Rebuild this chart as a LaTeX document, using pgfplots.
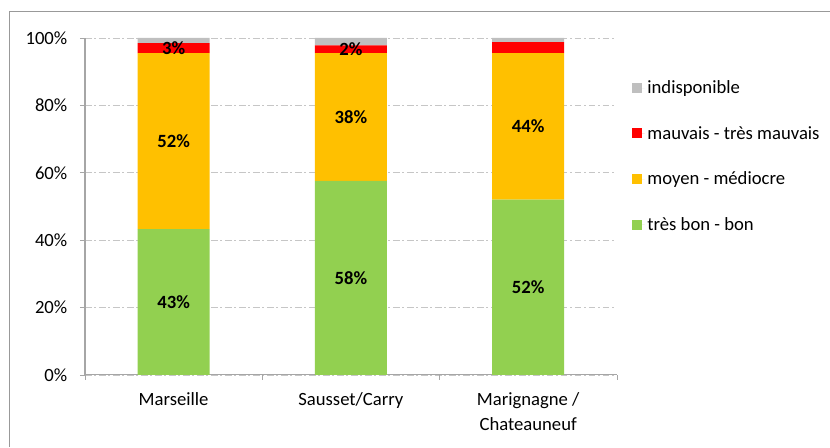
\documentclass[border=0pt]{standalone}
\usepackage{fontspec}
\setmainfont{Carlito}
\usepackage{pgfplots}
\pgfplotsset{compat=1.18}
\usepackage{pgfplotstable}
\definecolor{cgood}{HTML}{92D050}
\definecolor{cmid}{HTML}{FFC000}
\definecolor{cbad}{HTML}{FF0000}
\definecolor{cna}{HTML}{BFBFBF}
\definecolor{caxis}{HTML}{A6A6A6}

\pgfplotstableread{
x y lab
0 43.3 43\%
1 57.6 58\%
2 52.0 52\%
}\good
\pgfplotstableread{
x y lab
0 52.2 52\%
1 37.9 38\%
2 43.5 44\%
}\mid
\pgfplotstableread{
x y lab
0 3.0 3\%
1 2.3 2\%
2 3.3 {}
}\bad
\pgfplotstableread{
x y lab
0 1.5 {}
1 2.2 {}
2 1.2 {}
}\na

\pgfplotsset{lbl/.style={
  point meta=explicit symbolic,
  nodes near coords={\textbf{\pgfplotspointmeta}},
  every node near coord/.style={anchor=center, font=\fontsize{14}{17}\selectfont, text=black},
}}

\begin{document}
\begin{tikzpicture}
\path (0,0) rectangle (622.5pt,335.25pt);
\draw[gray!80] (6.75pt,0) -- (6.75pt,327pt) -- (622.5pt,327pt);
\begin{axis}[
  at={(63.75pt,54pt)}, anchor=south west,
  scale only axis, width=399pt, height=252.75pt,
  ybar stacked, bar width=54pt,
  xmin=-0.5, xmax=2.5, ymin=0, ymax=100,
  xtick={0,1,2},
  xticklabels={Marseille,Sausset/Carry,{Marignagne /\\Chateauneuf}},
  xticklabel style={align=center, font=\fontsize{14}{19}\selectfont, yshift=-6pt},
  major x tick style={draw=none},
  minor xtick={-0.5,0.5,1.5,2.5},
  minor tick length=3.75pt,
  ytick={0,20,...,100},
  yticklabel={\pgfmathprintnumber{\tick}\%},
  yticklabel style={font=\fontsize{14}{17}\selectfont, xshift=-6pt},
  /pgf/number format/assume math mode=true,
  major tick length=3.75pt,
  tick align=outside,
  axis x line*=bottom, axis y line*=left,
  axis line style={caxis, line width=0.8pt},
  every tick/.style={caxis},
  ymajorgrids,
  major grid style={gray!45, dash pattern=on 5pt off 2pt on 1.5pt off 2pt},
  legend cell align=left,
  reverse legend,
  legend style={draw=none, fill=none, at={(1.0207,0.89)}, anchor=north west,
     font=\fontsize{14}{17}\selectfont, row sep=19pt},
  legend image code/.code={\fill[#1] (0pt,-3.5pt) rectangle (7.5pt,4pt);\path (0pt,0pt) -- (9.5pt,0pt);},
]
\addplot[fill=cgood, draw=none, lbl] table[x=x,y=y,meta=lab] {\good};
\addlegendentry{très bon - bon}
\addplot[fill=cmid, draw=none, lbl] table[x=x,y=y,meta=lab] {\mid};
\addlegendentry{moyen - médiocre}
\addplot[fill=cbad, draw=none, lbl] table[x=x,y=y,meta=lab] {\bad};
\addlegendentry{mauvais - très mauvais}
\addplot[fill=cna, draw=none] table[x=x,y=y] {\na};
\addlegendentry{indisponible}
\end{axis}
\end{tikzpicture}
\end{document}
